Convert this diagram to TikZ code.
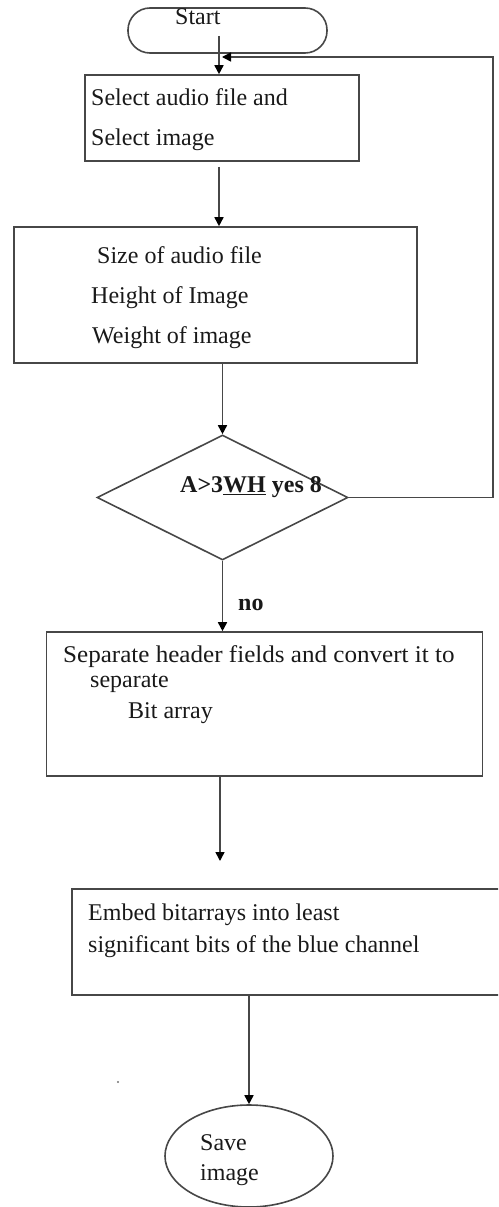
\documentclass[tikz,border=0pt]{standalone}
\usepackage{fontspec}
\setmainfont{Liberation Serif}
\usetikzlibrary{arrows.meta,shapes.geometric}
\begin{document}
\begin{tikzpicture}[x=1pt,y=-1pt,
  line/.style={draw=black!72,line width=1.6pt},
  arr/.style={line,-{Triangle[length=9pt,width=9pt,color=black,fill=black]}},
  txt/.style={anchor=base west,inner sep=0pt,font=\fontsize{24}{28}\selectfont,text=black!90},
  btxt/.style={txt,font=\fontsize{24}{28}\selectfont\bfseries},
  box/.style={line,rectangle,inner sep=0pt}
]
\useasboundingbox (0,0) rectangle (498,1207);
\clip (0,0) rectangle (498,1207);

% shapes
\node[line,rectangle,rounded corners=22pt,minimum width=199pt,minimum height=45pt,inner sep=0pt] (start) at (227.5,30.5) {};
\node[box,minimum width=274pt,minimum height=86pt] (b1) at (222,118) {};
\node[box,minimum width=403pt,minimum height=136pt] (b2) at (215.5,295) {};
\node[line,diamond,aspect=1,minimum width=251pt,minimum height=125pt,inner sep=0pt] (d) at (222.5,497.5) {};
\node[box,minimum width=436pt,minimum height=144pt] (b3) at (264.5,704) {};
\node[box,minimum width=440pt,minimum height=106pt] (b4) at (292,942) {};
\node[line,ellipse,minimum width=168pt,minimum height=102pt,inner sep=0pt] (el) at (249,1156) {};
\fill[black!55] (118,1082) circle (1.2pt);

% texts
\node[txt] (tstart) at (175,25) {Start};
\node[txt] (t11) at (91,105) {Select audio file and};
\node[txt] (t12) at (91,145) {Select image};
\node[txt] (t21) at (97,263) {Size of audio file};
\node[txt] (t22) at (91,303) {Height of Image};
\node[txt] (t23) at (92,343) {Weight of image};
\node[btxt] (td) at (180,492) {A>3\underline{WH} yes 8};
\node[btxt] (tno) at (238,610) {no};
\node[txt] (t31) at (63,662) {\addfontfeature{FakeStretch=1.045}Separate header fields and convert it to};
\node[txt] (t32) at (90,687) {separate};
\node[txt] (t33) at (128,718) {Bit array};
\node[txt] (t41) at (88,920) {Embed bitarrays into least};
\node[txt] (t42) at (88,952) {significant bits of the blue channel};
\node[txt] (t51) at (200,1150) {Save};
\node[txt] (t52) at (200,1180) {image};

% helper coordinates
\coordinate (ax) at (219,0);
\coordinate (s1) at (219,36);
\coordinate (rx) at (493,0);
\coordinate (fbend) at (222,57);
\coordinate (e1) at (220,861);

% connectors
\draw[arr] (s1) -- (b1.north -| s1);
\draw[arr,shorten <=5pt] (b1.south -| ax) -- (b2.north -| ax);
\draw[arr] (b2.south -| d.north) -- (d.north);
\draw[arr] (d.south) -- (b3.north -| d.south);
\draw[arr] (b3.south -| e1) -- (e1);
\draw[arr] (b4.south -| el.north) -- (el.north);
\draw[arr] (d.east) -- (d.east -| rx) |- (fbend);
\end{tikzpicture}
\end{document}
